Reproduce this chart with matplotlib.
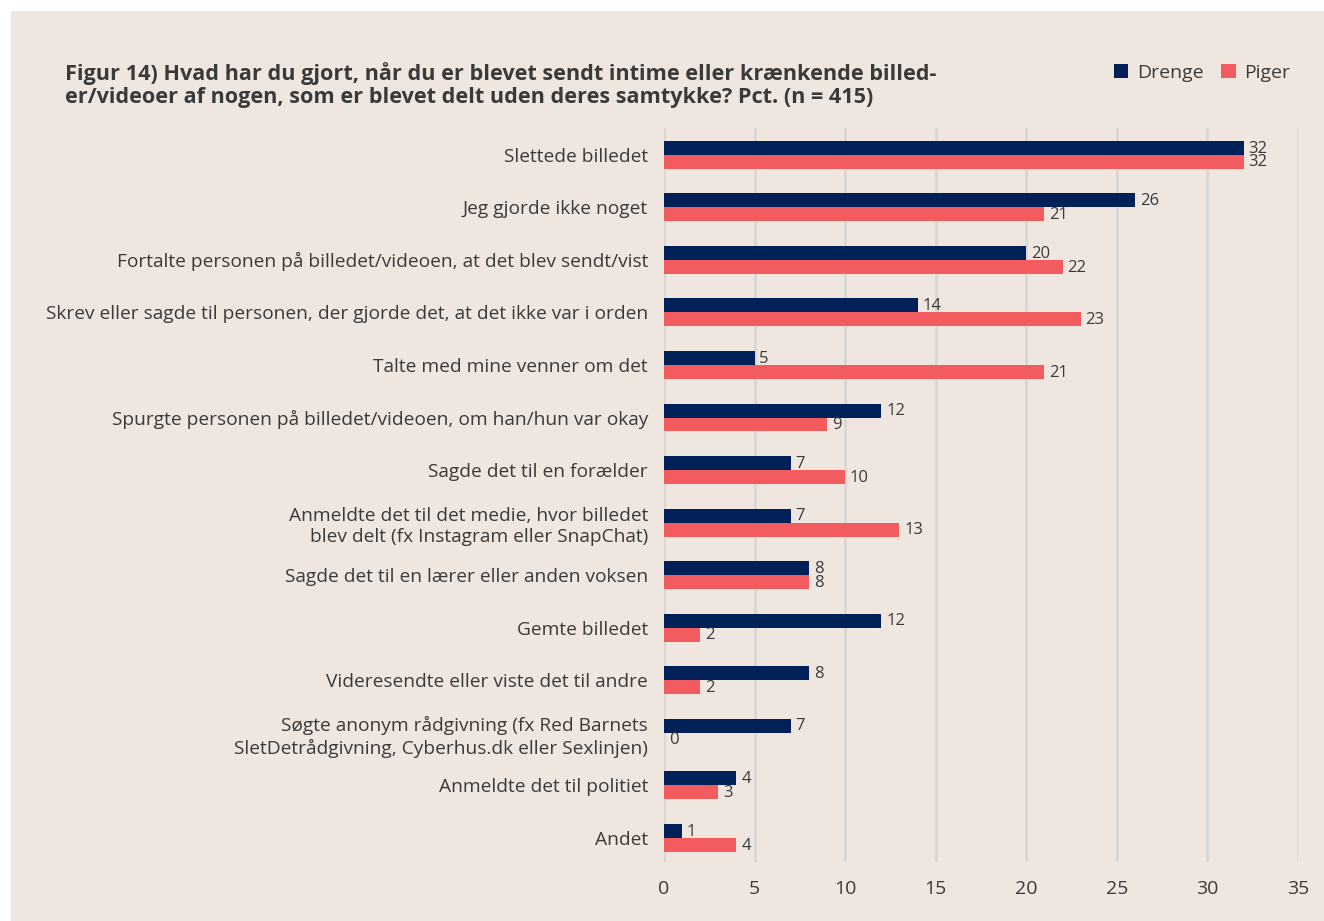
import matplotlib.pyplot as plt
from matplotlib.patches import Rectangle
import numpy as np

plt.rcParams['font.family'] = ['Open Sans', 'DejaVu Sans']

kategorier = ['Slettede billedet',
              'Jeg gjorde ikke noget',
              'Fortalte personen på billedet/videoen, at det blev sendt/vist',
              'Skrev eller sagde til personen, der gjorde det, at det ikke var i orden',
              'Talte med mine venner om det',
              'Spurgte personen på billedet/videoen, om han/hun var okay',
              'Sagde det til en forælder',
              'Anmeldte det til det medie, hvor billedet\nblev delt (fx Instagram eller SnapChat)',
              'Sagde det til en lærer eller anden voksen',
              'Gemte billedet',
              'Videresendte eller viste det til andre',
              'Søgte anonym rådgivning (fx Red Barnets\nSletDetrådgivning, Cyberhus.dk eller Sexlinjen)',
              'Anmeldte det til politiet',
              'Andet']
drenge = [32, 26, 20, 14, 5, 12, 7, 7, 8, 12, 8, 7, 4, 1]
piger = [32, 21, 22, 23, 21, 9, 10, 13, 8, 2, 2, 0, 3, 4]

bg = '#efe6e0'
navy = '#002157'
rod = '#f25c5e'
tekst = '#3a3a3a'

fig = plt.figure(figsize=(13.24, 9.21), dpi=100)
fig.patch.set_facecolor('white')
fig.patches.append(Rectangle((11/1324, 0), 1 - 11/1324, 1 - 11/921,
                             transform=fig.transFigure, facecolor=bg,
                             edgecolor='none', zorder=-10))

ax = fig.add_axes([664/1324, 1 - 862/921, 634/1324, (862 - 128)/921])
ax.set_facecolor('none')

y = np.arange(len(kategorier))
h = 0.266
b1 = ax.barh(y - h/2, drenge, height=h, color=navy, zorder=3)
b2 = ax.barh(y + h/2, piger, height=h, color=rod, zorder=3)

for bars, vals in [(b1, drenge), (b2, piger)]:
    for bar, v in zip(bars, vals):
        ax.annotate(str(v), (bar.get_width(), bar.get_y() + bar.get_height()/2),
                    xytext=(3.5, -0.5), textcoords='offset points',
                    va='center', ha='left', fontsize=12, color=tekst)

ax.set_xlim(0, 35)
ax.set_ylim(13.46, -0.51)
ax.set_xticks(range(0, 36, 5))
ax.set_yticks(y)
ax.set_yticklabels(kategorier, fontsize=13.8, color=tekst, linespacing=1.25)
ax.tick_params(axis='y', length=0, pad=11.5)
ax.tick_params(axis='x', length=0, pad=13, labelsize=14, labelcolor=tekst)
ax.grid(axis='x', color='#d9d6d3', linewidth=2, zorder=0)
for s in ax.spines.values():
    s.set_visible(False)

fig.text(65/1324, 1 - 85/921,
         'Figur 14) Hvad har du gjort, når du er blevet sendt intime eller krænkende billed-\n'
         'er/videoer af nogen, som er blevet delt uden deres samtykke? Pct. (n = 415)',
         fontsize=15.6, fontweight='bold', color=tekst, va='center', ha='left',
         linespacing=1.1)

fig.legend([b1, b2], ['Drenge', 'Piger'], loc='center right',
           bbox_to_anchor=(1308/1324, 1 - 73/921), ncol=2, frameon=False,
           fontsize=14, labelcolor=tekst, handlelength=0.75, handleheight=0.75,
           handletextpad=0.45, columnspacing=0.9)

fig.savefig('out.png', dpi=100, facecolor=fig.get_facecolor())
